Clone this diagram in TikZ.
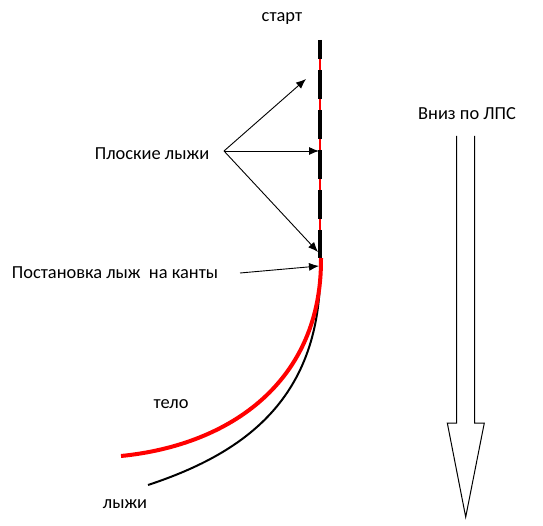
\documentclass[tikz,border=0pt]{standalone}
\usepackage{fontspec}
\setmainfont{Carlito}
\usetikzlibrary{arrows.meta}
\tikzset{
  lbl/.style={inner sep=0pt, font=\fontsize{18.4}{20}\selectfont},
  ptr/.style={line width=0.9pt, -{Latex[length=10pt,width=8pt]}},
}
\begin{document}
\begin{tikzpicture}[x=1pt,y=-1pt]
\useasboundingbox[fill=white] (0,0) rectangle (543,526);
% text nodes
\node[lbl] (start) at (282,19) {старт};
\node[lbl] (flat) at (152,154) {Плоские лыжи};
\node[lbl] (edge) at (115,273) {Постановка лыж\ \ на канты};
\node[lbl] (down) at (467,114) {Вниз по ЛПС};
\node[lbl] (body) at (171,404) {тело};
\node[lbl] (skis) at (125,504) {лыжи};
% coordinates
\coordinate (top) at (320,40);
\coordinate (bot) at (320,258);
\coordinate (fo) at (224,151);
\coordinate (t1) at (306,79);
\coordinate (t2) at (319,151);
\coordinate (t3) at (318,252);
\coordinate (eo) at (240,273);
\coordinate (t4) at (319,266);
\coordinate (redtop) at (321,258);
\coordinate (redend) at (121,456);
\coordinate (blkend) at (148,485);
% vertical track
\draw[red, line width=1.4pt] (top) -- (bot);
\draw[black, line width=4pt, dash pattern=on 29pt off 11pt, dash phase=10pt] (top) -- (bot);
% curves
\draw[black, line width=2pt] (bot) .. controls (325,395) and (248,452) .. (blkend);
\draw[red, line width=4pt] (redtop) .. controls (322,380) and (232,445) .. (redend);
% pointers
\draw[ptr] (fo) -- (t1);
\draw[ptr] (fo) -- (t2);
\draw[ptr] (fo) -- (t3);
\draw[ptr] (eo) -- (t4);
% big outline arrow
\draw[line width=1pt, line join=miter] (456.5,136) -- (456.5,423) -- (447.3,423) -- (465.7,517) -- (484.3,423) -- (474.5,423) -- (474.5,136);
\end{tikzpicture}
\end{document}
